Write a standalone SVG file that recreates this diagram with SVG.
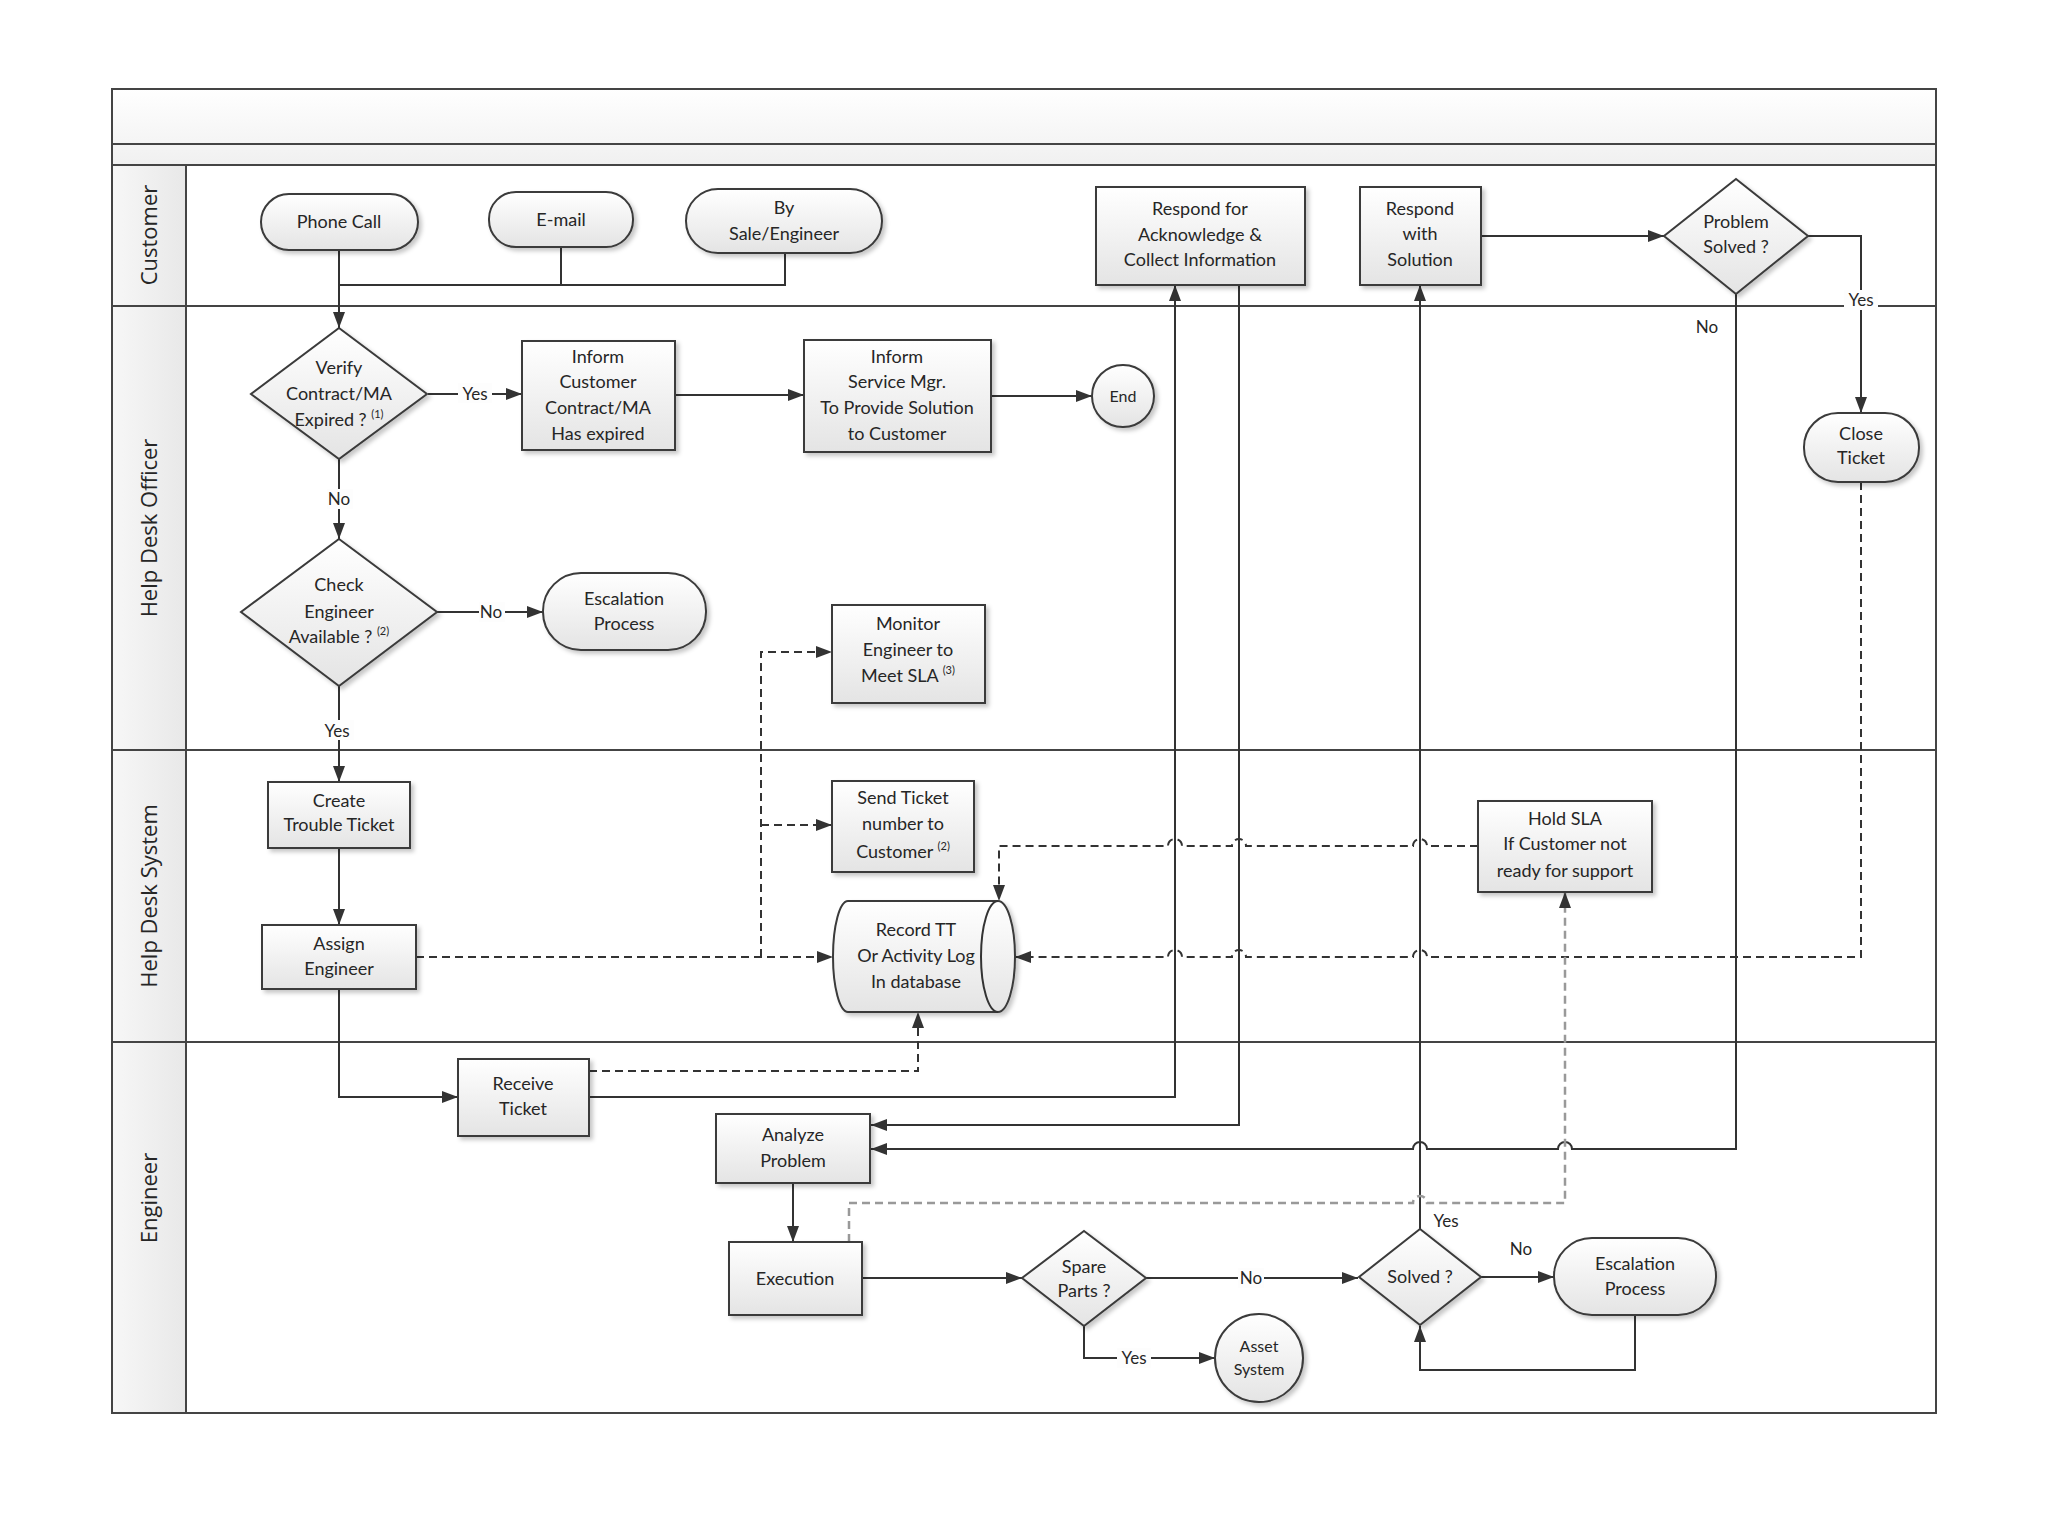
<svg xmlns="http://www.w3.org/2000/svg" width="2048" height="1536" viewBox="0 0 2048 1536">
<style>
.frame{fill:none;stroke:#444;stroke-width:2}
.lane{stroke:#444;stroke-width:2;fill:none}
.node{fill:url(#ng);stroke:#3a3a3a;stroke-width:2;filter:url(#sh)}
.t{font-family:Lato,"Open Sans",sans-serif;font-size:18px;fill:#262626;text-anchor:middle}
.lt{font-family:"Open Sans",Lato,sans-serif;font-size:22px;fill:#262626;text-anchor:middle}
.lbl{font-family:Lato,"Open Sans",sans-serif;font-size:17px;fill:#262626;text-anchor:middle}
.sup{font-size:11px}
.c{fill:none;stroke:#333;stroke-width:2}
.d{fill:none;stroke:#333;stroke-width:2;stroke-dasharray:8 5}
.g{fill:none;stroke:#999;stroke-width:2.5;stroke-dasharray:8 5}
.bg{fill:#fdfdfd}
</style>
<defs>
<linearGradient id="ng" x1="0" y1="0" x2="0" y2="1"><stop offset="0" stop-color="#ffffff"/><stop offset="1" stop-color="#e4e4e4"/></linearGradient>
<linearGradient id="lg" x1="0" y1="0" x2="1" y2="0"><stop offset="0" stop-color="#f7f7f7"/><stop offset="1" stop-color="#e8e8e8"/></linearGradient>
<linearGradient id="tg" x1="0" y1="0" x2="0" y2="1"><stop offset="0" stop-color="#ffffff"/><stop offset="1" stop-color="#f0f0f0"/></linearGradient>
<filter id="sh" x="-10%" y="-10%" width="130%" height="130%"><feDropShadow dx="3" dy="3" stdDeviation="2" flood-color="#000" flood-opacity="0.22"/></filter>
<marker id="a" viewBox="0 0 16 12" refX="16" refY="6" markerWidth="16" markerHeight="12" markerUnits="userSpaceOnUse" orient="auto"><path d="M0,0 L16,6 L0,12 z" fill="#333"/></marker>
</defs>
<rect width="2048" height="1536" fill="#ffffff"/>

<g id="pool">
<rect x="112" y="89" width="1824" height="76" fill="url(#tg)"/>
<rect x="112" y="165" width="74" height="1248" fill="url(#lg)"/>
<rect x="112" y="89" width="1824" height="1324" class="frame"/>
<line x1="112" y1="144" x2="1936" y2="144" class="lane"/>
<line x1="112" y1="165" x2="1936" y2="165" class="lane"/>
<line x1="186" y1="165" x2="186" y2="1413" class="lane"/>
<line x1="112" y1="306" x2="1936" y2="306" class="lane"/>
<line x1="112" y1="750" x2="1936" y2="750" class="lane"/>
<line x1="112" y1="1042" x2="1936" y2="1042" class="lane"/>
<text class="lt" transform="translate(157,235) rotate(-90)">Customer</text>
<text class="lt" transform="translate(157,528) rotate(-90)">Help Desk Officer</text>
<text class="lt" transform="translate(157,896) rotate(-90)">Help Desk System</text>
<text class="lt" transform="translate(157,1198) rotate(-90)">Engineer</text>
</g>

<g id="connectors">
<path class="c" d="M339,250 V285 H785 V253 M561,247 V285"/>
<path class="c" d="M339,285 V328" marker-end="url(#a)"/>
<path class="c" d="M428,394 H522" marker-end="url(#a)"/>
<path class="c" d="M675,395 H804" marker-end="url(#a)"/>
<path class="c" d="M991,396 H1092" marker-end="url(#a)"/>
<path class="c" d="M339,458 V539" marker-end="url(#a)"/>
<path class="c" d="M437,612 H543" marker-end="url(#a)"/>
<path class="c" d="M339,686 V782" marker-end="url(#a)"/>
<path class="c" d="M339,848 V925" marker-end="url(#a)"/>
<path class="d" d="M416,957 H833" marker-end="url(#a)"/>
<path class="d" d="M761,957 V652 H832" marker-end="url(#a)"/>
<path class="d" d="M761,825 H832" marker-end="url(#a)"/>
<path class="c" d="M339,989 V1097 H458" marker-end="url(#a)"/>
<path class="d" d="M589,1071 H918 V1012" marker-end="url(#a)"/>
<path class="c" d="M589,1097 H1175 V285" marker-end="url(#a)"/>
<path class="c" d="M1239,285 V1125 H871" marker-end="url(#a)"/>
<path class="c" d="M793,1183 V1242" marker-end="url(#a)"/>
<path class="c" d="M862,1278 H1022" marker-end="url(#a)"/>
<path class="c" d="M1146,1278 H1358" marker-end="url(#a)"/>
<path class="c" d="M1084,1326 V1358 H1215" marker-end="url(#a)"/>
<path class="c" d="M1481,1277 H1554" marker-end="url(#a)"/>
<path class="c" d="M1635,1315 V1370 H1420 V1326" marker-end="url(#a)"/>
<path class="c" d="M1420,1229 V285" marker-end="url(#a)"/>
<path class="c" d="M1481,236 H1664" marker-end="url(#a)"/>
<path class="c" d="M1808,236 H1861 V413" marker-end="url(#a)"/>
<path class="c" d="M1736,294 V1149 H1572 A7,7 0 0 0 1558,1149 H1427 A7,7 0 0 0 1413,1149 H871" marker-end="url(#a)"/>
<path class="d" d="M1861,482 V957 H1427 A7,7 0 0 0 1413,957 H1246 A7,7 0 0 0 1232,957 H1182 A7,7 0 0 0 1168,957 H1015" marker-end="url(#a)"/>
<path class="d" d="M1478,846 H1427 A7,7 0 0 0 1413,846 H1246 A7,7 0 0 0 1232,846 H1182 A7,7 0 0 0 1168,846 H999 V901" marker-end="url(#a)"/>
<path class="g" d="M849,1242 V1203 H1413 A7,7 0 0 1 1427,1203 H1565 V892" marker-end="url(#a)"/>
<rect class="bg" x="458" y="383" width="34" height="20"/>
<text class="lbl" x="475" y="400">Yes</text>
<rect class="bg" x="327" y="489" width="26" height="20"/>
<text class="lbl" x="339" y="505">No</text>
<rect class="bg" x="479" y="602" width="26" height="20"/>
<text class="lbl" x="491" y="618">No</text>
<rect class="bg" x="320" y="720" width="34" height="20"/>
<text class="lbl" x="337" y="737">Yes</text>
<rect class="bg" x="1844" y="290" width="34" height="20"/>
<text class="lbl" x="1861" y="306">Yes</text>
<text class="lbl" x="1707" y="333">No</text>
<rect class="bg" x="1238" y="1268" width="26" height="20"/>
<text class="lbl" x="1251" y="1284">No</text>
<rect class="bg" x="1117" y="1348" width="34" height="20"/>
<text class="lbl" x="1134" y="1364">Yes</text>
<text class="lbl" x="1521" y="1255">No</text>
<text class="lbl" x="1446" y="1227">Yes</text>
</g>

<g id="phone-call"><rect class="node" x="261" y="194" width="157" height="56" rx="28"/><text class="t" x="339" y="228">Phone Call</text></g>
<g id="e-mail"><rect class="node" x="489" y="192" width="144" height="55" rx="27"/><text class="t" x="561" y="226">E-mail</text></g>
<g id="by-sale"><rect class="node" x="686" y="189" width="196" height="64" rx="32"/><text class="t" x="784" y="214">By</text><text class="t" x="784" y="240">Sale/Engineer</text></g>

<g id="verify"><polygon class="node" points="339,328 427,394 339,459 251,394"/><text class="t" x="339" y="374">Verify</text><text class="t" x="339" y="400">Contract/MA</text><text class="t" x="339" y="426">Expired ? <tspan class="sup" dy="-8">(1)</tspan></text></g>
<g id="inform-customer"><rect class="node" x="522" y="341" width="153" height="109"/><text class="t" x="598" y="363">Inform</text><text class="t" x="598" y="388">Customer</text><text class="t" x="598" y="414">Contract/MA</text><text class="t" x="598" y="440">Has expired</text></g>
<g id="inform-service"><rect class="node" x="804" y="340" width="187" height="112"/><text class="t" x="897" y="363">Inform</text><text class="t" x="897" y="388">Service Mgr.</text><text class="t" x="897" y="414">To Provide Solution</text><text class="t" x="897" y="440">to Customer</text></g>
<g id="end"><circle class="node" cx="1123" cy="396" r="31"/><text class="t" x="1123" y="402" style="font-size:16px">End</text></g>

<g id="check"><polygon class="node" points="339,539 437,612 339,686 241,612"/><text class="t" x="339" y="591">Check</text><text class="t" x="339" y="618">Engineer</text><text class="t" x="339" y="643">Available ? <tspan class="sup" dy="-8">(2)</tspan></text></g>
<g id="escalation-1"><rect class="node" x="543" y="573" width="163" height="77" rx="38"/><text class="t" x="624" y="605">Escalation</text><text class="t" x="624" y="630">Process</text></g>
<g id="monitor"><rect class="node" x="832" y="605" width="153" height="98"/><text class="t" x="908" y="630">Monitor</text><text class="t" x="908" y="656">Engineer to</text><text class="t" x="908" y="682">Meet SLA <tspan class="sup" dy="-8">(3)</tspan></text></g>

<g id="create-ticket"><rect class="node" x="268" y="782" width="142" height="66"/><text class="t" x="339" y="807">Create</text><text class="t" x="339" y="831">Trouble Ticket</text></g>
<g id="assign-engineer"><rect class="node" x="262" y="925" width="154" height="64"/><text class="t" x="339" y="950">Assign</text><text class="t" x="339" y="975">Engineer</text></g>
<g id="send-ticket"><rect class="node" x="832" y="781" width="142" height="91"/><text class="t" x="903" y="804">Send Ticket</text><text class="t" x="903" y="830">number to</text><text class="t" x="903" y="858">Customer <tspan class="sup" dy="-8">(2)</tspan></text></g>
<g id="record-tt"><path class="node" d="M848,901 L998,901 A17,55.5 0 0 1 998,1012 L848,1012 A15,55.5 0 0 1 848,901 Z"/><path class="c" d="M998,901 A17,55.5 0 0 0 998,1012"/><text class="t" x="916" y="936">Record TT</text><text class="t" x="916" y="962">Or Activity Log</text><text class="t" x="916" y="988">In database</text></g>
<g id="hold-sla"><rect class="node" x="1478" y="801" width="174" height="91"/><text class="t" x="1565" y="825">Hold SLA</text><text class="t" x="1565" y="850">If Customer not</text><text class="t" x="1565" y="877">ready for support</text></g>

<g id="respond-ack"><rect class="node" x="1096" y="187" width="209" height="98"/><text class="t" x="1200" y="215">Respond for</text><text class="t" x="1200" y="241">Acknowledge &amp;</text><text class="t" x="1200" y="266">Collect Information</text></g>
<g id="respond-solution"><rect class="node" x="1360" y="187" width="121" height="98"/><text class="t" x="1420" y="215">Respond</text><text class="t" x="1420" y="240">with</text><text class="t" x="1420" y="266">Solution</text></g>
<g id="problem-solved"><polygon class="node" points="1736,179 1808,236 1736,294 1664,236"/><text class="t" x="1736" y="228">Problem</text><text class="t" x="1736" y="253">Solved ?</text></g>
<g id="close-ticket"><rect class="node" x="1804" y="413" width="115" height="69" rx="34"/><text class="t" x="1861" y="440">Close</text><text class="t" x="1861" y="464">Ticket</text></g>

<g id="receive-ticket"><rect class="node" x="458" y="1059" width="131" height="77"/><text class="t" x="523" y="1090">Receive</text><text class="t" x="523" y="1115">Ticket</text></g>
<g id="analyze"><rect class="node" x="716" y="1114" width="154" height="69"/><text class="t" x="793" y="1141">Analyze</text><text class="t" x="793" y="1167">Problem</text></g>
<g id="execution"><rect class="node" x="729" y="1242" width="133" height="73"/><text class="t" x="795" y="1285">Execution</text></g>
<g id="spare-parts"><polygon class="node" points="1084,1231 1146,1278 1084,1326 1022,1278"/><text class="t" x="1084" y="1273">Spare</text><text class="t" x="1084" y="1297">Parts ?</text></g>
<g id="asset-system"><circle class="node" cx="1259" cy="1358" r="44"/><text class="t" x="1259" y="1352" style="font-size:16px">Asset</text><text class="t" x="1259" y="1375" style="font-size:16px">System</text></g>
<g id="solved"><polygon class="node" points="1420,1229 1481,1277 1420,1325 1359,1277"/><text class="t" x="1420" y="1283">Solved ?</text></g>
<g id="escalation-2"><rect class="node" x="1554" y="1238" width="162" height="77" rx="38"/><text class="t" x="1635" y="1270">Escalation</text><text class="t" x="1635" y="1295">Process</text></g>
</svg>
